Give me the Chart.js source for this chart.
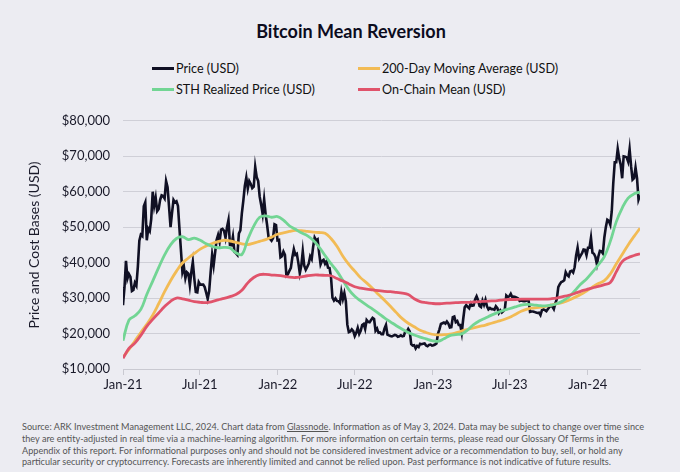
<!DOCTYPE html>
<html lang="en">
  <head>
    <meta charset="UTF-8" />
    <title>Bitcoin Mean Reversion</title>
    <script src="https://cdn.jsdelivr.net/npm/chart.js"></script>
    <style>
      body {
        margin: 0;
        background: #ececf2;
        font-family: Lato, "Open Sans", sans-serif;
        color: #111;
      }
      .wrap {
        position: relative;
        width: 680px;
        height: 472px;
        overflow: hidden;
      }
      h2 {
        position: absolute;
        top: 20px;
        left: 0;
        width: 702px;
        margin: 0;
        text-align: center;
        font-size: 18px;
        font-weight: 700;
        color: #0c0c1e;
      }
      .legend {
        position: absolute;
        top: 59px;
        left: 152px;
        display: grid;
        grid-template-columns: 206px auto;
        row-gap: 3px;
        font-size: 12.6px;
      }
      .legend span {
        display: flex;
        align-items: center;
        height: 18px;
      }
      .legend i {
        display: inline-block;
        width: 22px;
        height: 3px;
        margin-right: 2px;
      }
      canvas {
        position: absolute;
        top: 100px;
        left: 0;
      }
      .note {
        position: absolute;
        top: 421px;
        left: 22px;
        width: 650px;
        font-size: 9.15px;
        line-height: 11.8px;
        color: #555;
      }
      .note u {
        text-underline-offset: 1px;
      }
    </style>
  </head>
  <body>
    <div class="wrap">
      <h2>Bitcoin Mean Reversion</h2>
      <div class="legend" id="legend"></div>
      <canvas id="grafico" width="680" height="300"></canvas>
      <div class="note">
        Source: ARK Investment Management LLC, 2024. Chart data from <u>Glassnode</u>. Information as of May 3, 2024. Data may be subject to change over time since<br />
        they are entity-adjusted in real time via a machine-learning algorithm. For more information on certain terms, please read our Glossary Of Terms in the<br />
        Appendix of this report. For informational purposes only and should not be considered investment advice or a recommendation to buy, sell, or hold any<br />
        particular security or cryptocurrency. Forecasts are inherently limited and cannot be relied upon. Past performance is not indicative of future results.
      </div>
    </div>

    <script>
      // days counted from 1 Jan 2021; last point = 3 May 2024
      const tickDays = [0, 181, 365, 546, 730, 911, 1095];
      const tickLabels = ["Jan-21", "Jul-21", "Jan-22", "Jul-22", "Jan-23", "Jul-23", "Jan-24"];
      const yTicks = [10000, 20000, 30000, 40000, 50000, 60000, 70000, 80000];

      // price, one point every 3.5 days from day 0
      const priceStep = 3.5;
      const price = [
        // 2021
        28000, 33000, 40500, 35500, 36800, 36000, 32000, 32300, 34300, 33500,
        38900, 46200, 47900, 47500, 55900, 57000, 46300, 49600, 48900, 52300,
        60000, 56000, 58300, 54500, 55100, 57700, 59000, 58800, 58100, 63000,
        61300, 55700, 50000, 54000, 57700, 57000, 57300, 56000, 49600, 43500,
        37300, 38800, 35600, 37300, 36900, 33600, 37300, 40200, 35500, 31700,
        31600, 34500, 33800, 33800, 33800, 33100, 31500, 29800, 32000, 37300,
        42200, 39200, 42800, 46400, 47800, 45900, 49300, 49500, 49000, 47000,
        50000, 52000, 45000, 44900, 47300, 43000, 42700, 42200, 48200, 49100,
        53900, 57500, 61600, 64000, 60900, 63000, 62200, 61000, 61400, 67000,
        64100, 63000, 58600, 56300, 53700, 57800, 53600, 50600, 47100, 46700,
        46200, 46900, 50800, 50600, 46300,
        // 2022
        46400, 41500, 41800, 43100, 42200, 36300, 36700, 37700, 38500, 41500,
        43800, 42200, 42500, 40000, 37000, 39100, 43200, 39100, 38000, 38800,
        39700, 41800, 41000, 44500, 47100, 46300, 46600, 42800, 39500, 40500,
        40800, 39700, 40400, 38600, 38500, 36000, 30100, 29300, 29900, 29200,
        29100, 28600, 31800, 29700, 31400, 29100, 22500, 20400, 20600, 21200,
        20700, 19300, 20200, 21600, 19900, 20800, 22400, 22700, 21300, 23800,
        23300, 23200, 23800, 24400, 24100, 20800, 21400, 20200, 20300, 19800,
        19800, 21400, 22400, 19700, 19500, 19300, 19200, 19400, 19600, 19500,
        19100, 19200, 19500, 19200, 19300, 20600, 20500, 21300, 20600, 17000,
        16600, 16700, 15800, 16500, 16200, 17100, 17000, 17100, 17200, 16600,
        16400, 16800, 16900, 16600,
        // 2023
        16700, 16900, 17200, 19900, 21200, 22700, 22900, 23100, 22800, 23400,
        22800, 21700, 21800, 24600, 24800, 23200, 23500, 22400, 22400, 20200,
        24100, 27400, 28000, 27500, 27100, 28500, 27800, 27900, 29600, 30500,
        29400, 27800, 27500, 29300, 28100, 29500, 27700, 26800, 27200, 26900,
        26900, 26700, 27700, 27200, 25800, 26500, 25900, 26300, 26800, 30700,
        30300, 30500, 31200, 30300, 30400, 30300, 30100, 29900, 29200, 29300,
        29200, 29100, 29200, 29400, 29400, 26100, 26200, 26200, 26100, 25900,
        25800, 25900, 25200, 26600, 26800, 26600, 26300, 26900, 27500, 27900,
        27600, 26900, 28500, 29700, 33100, 33900, 34500, 34700, 35000, 37300,
        36500, 36100, 37500, 37700, 37200, 38700, 42000, 44200, 41200, 42000,
        42700, 43700, 43600, 42100,
        // 2024
        44200, 44200, 47000, 42800, 42500, 41600, 39500, 41800, 43300, 43200,
        42600, 47100, 50000, 52100, 51800, 50700, 54500, 62400, 68300, 68300,
        72100, 69400, 67600, 63800, 70000, 69900, 69700, 68500, 72000, 67200,
        63400, 63800, 66800, 63800, 57800, 59000
      ];

      // smoother series, every 14 days from day 0
      const smoothStep = 14;
      const movingAvg200 = [
        13300, 15500, 17900, 20300, 22600, 25200, 28400, 31800, 34900, 37600,
        39900, 41300, 42600, 43800, 44700, 45400, 45900, 46300, 46100, 45700,
        45300, 45100, 45500, 46000, 46500, 47200, 48000, 48400, 48800, 49100,
        49000, 48800, 48600, 48500, 48300, 46800, 44600, 41800, 39500, 37600,
        35700, 34300, 32700, 31000, 29400, 27700, 25900, 24200, 22900, 21900,
        20900, 20300, 19800, 19600, 19700, 19800, 20200, 20700, 21200, 21600,
        22000, 22400, 22900, 23400, 23900, 24500, 25400, 26300, 26900, 27200,
        27400, 27600, 28000, 28400, 28800, 29400, 30200, 31000, 32000, 33100,
        34100, 34900, 36800, 39600, 42300, 45000, 47400, 49700
      ];
      const sthRealized = [
        18000, 23800, 25000, 26800, 31000, 34800, 38600, 42200, 45000, 46800,
        47300, 46500, 46900, 46300, 45300, 44600, 44200, 44300, 44100, 42800,
        42300, 46600, 50300, 52800, 53200, 52800, 53000, 52000, 50400, 49400,
        48400, 47600, 46300, 44400, 42000, 39700, 37600, 35000, 32400, 30500,
        29200, 28000, 26900, 25700, 24400, 23300, 22200, 21200, 20300, 19600,
        19000, 18500, 18000, 17800, 18500, 19400, 19700, 19900, 21000, 22500,
        23600, 24400, 25200, 25900, 26500, 27000, 27500, 28000, 28200, 28100,
        27900, 27800, 28000, 28400, 29200, 30300, 32000, 33900, 35400, 37300,
        39400, 41700, 46000, 51500, 55400, 58200, 59400, 59900
      ];
      const onChainMean = [
        13000, 15800, 17300, 19500, 22000, 24000, 25800, 27600, 29100, 30000,
        29800, 29400, 29000, 28800, 28700, 29000, 29500, 29900, 30400, 31000,
        32200, 34300, 35800, 36600, 36700, 36500, 36400, 36200, 35900, 35800,
        36000, 36300, 36500, 36500, 36400, 36300, 35500, 34800, 34000, 33200,
        32800, 32500, 32300, 32100, 31900, 31800, 31600, 31400, 31000, 29800,
        29000, 28700, 28500, 28400, 28500, 28600, 28700, 28800, 28800, 28900,
        29000, 29100, 29200, 29300, 29500, 29600, 29600, 29700, 29700, 29700,
        29700, 29700, 29800, 30000, 30400, 30800, 31300, 31900, 32400, 32900,
        33300, 33800, 34400, 37400, 40300, 41400, 42000, 42500
      ];

      const seriesNames = [
        "Price (USD)",
        "200-Day Moving Average (USD)",
        "STH Realized Price (USD)",
        "On-Chain Mean (USD)",
      ];
      const seriesColors = ["#101024", "#f2bb55", "#72d594", "#e0536b"];

      function pts(values, step) {
        return values.map((v, i) => ({ x: i * step, y: v }));
      }

      const datasets = [
        { data: pts(price, priceStep), order: 4 },
        { data: pts(movingAvg200, smoothStep), order: 3 },
        { data: pts(sthRealized, smoothStep), order: 2 },
        { data: pts(onChainMean, smoothStep), order: 1 },
      ].map((d, i) => ({
        ...d,
        label: seriesNames[i],
        borderColor: seriesColors[i],
        backgroundColor: seriesColors[i],
        borderWidth: i === 0 ? 2.6 : 2.8,
        pointRadius: 0,
        tension: i === 0 ? 0 : 0.4,
        fill: false,
      }));

      // legend in two columns, like the original
      document.getElementById("legend").innerHTML = seriesNames
        .map((n, i) => `<span><i style="background:${seriesColors[i]}"></i>${n}</span>`)
        .join("");

      const ctx = document.getElementById("grafico").getContext("2d");
      new Chart(ctx, {
        type: "line",
        data: { datasets },
        options: {
          responsive: false,
          animation: false,
          layout: { padding: { left: 20, right: 40, top: 15, bottom: 0 } },
          plugins: { legend: { display: false }, tooltip: { enabled: false } },
          scales: {
            x: {
              type: "linear",
              min: 0,
              max: 1218,
              afterBuildTicks: (s) => {
                s.ticks = tickDays.map((v) => ({ value: v }));
              },
              afterFit: (s) => {
                s.height = 31;
              },
              ticks: {
                autoSkip: false,
                maxRotation: 0,
                padding: 2,
                color: "#1a1a2a",
                font: { family: "Lato", size: 13 },
                callback: (v) => tickLabels[tickDays.indexOf(v)],
              },
              grid: {
                drawOnChartArea: false,
                tickLength: 6,
                color: "#c9c9d1",
              },
              border: { color: "#c9c9d1" },
            },
            y: {
              min: 10000,
              max: 80000,
              afterBuildTicks: (s) => {
                s.ticks = yTicks.map((v) => ({ value: v }));
              },
              afterFit: (s) => {
                s.width = 103;
              },
              ticks: {
                padding: 13,
                color: "#1a1a2a",
                font: { family: "Lato", size: 13 },
                callback: (v) => "$" + v.toLocaleString("en-US"),
              },
              grid: { color: "#cfcfd7", drawTicks: false },
              border: { display: false },
              title: {
                display: true,
                text: "Price and Cost Bases (USD)",
                color: "#1a1a2a",
                font: { family: "Lato", size: 14 },
                padding: { top: 6, bottom: 0 },
              },
            },
          },
        },
      });
    </script>
  </body>
</html>
